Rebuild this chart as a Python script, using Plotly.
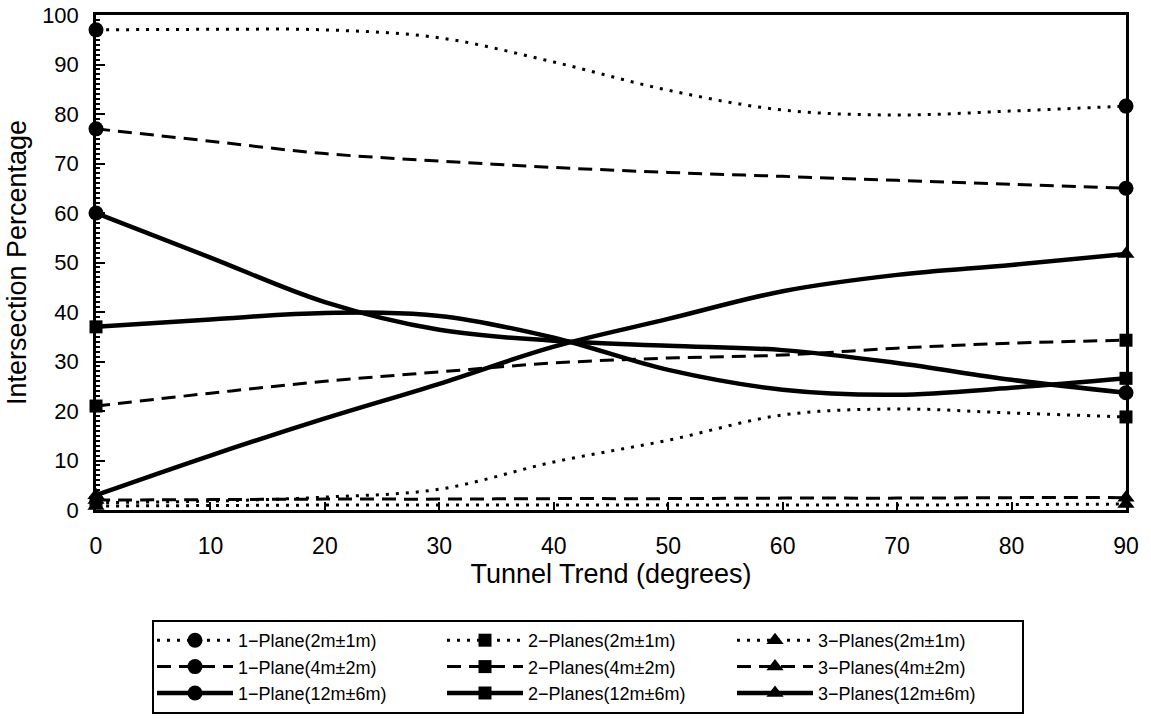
import plotly.graph_objects as go

x_deg = [0, 10, 20, 30, 40, 50, 60, 70, 80, 90]

p1_2m = [97, 97.1, 97, 95.4, 90.5, 84.8, 80.8, 79.8, 80.6, 81.6]
p2_2m = [1.5, 1.8, 2.6, 4.2, 9.7, 14.1, 19.2, 20.4, 19.6, 18.8]
p3_2m = [0.8, 0.9, 1.0, 1.0, 1.0, 1.0, 1.0, 1.0, 1.1, 1.2]
p1_4m = [77, 74.5, 72, 70.5, 69.2, 68.2, 67.4, 66.6, 65.8, 65]
p2_4m = [21, 23.6, 26, 27.9, 29.7, 30.7, 31.3, 32.7, 33.7, 34.3]
p3_4m = [2.0, 2.1, 2.2, 2.2, 2.3, 2.3, 2.4, 2.4, 2.5, 2.5]
p1_12m = [60, 51, 42, 36.4, 34.2, 33.2, 32.3, 29.7, 26.3, 23.7]
p2_12m = [37, 38.5, 39.8, 39.2, 34.8, 28.3, 24.3, 23.3, 24.7, 26.6]
p3_12m = [3, 11, 18.5, 25.5, 33, 38.6, 44.2, 47.5, 49.5, 51.7]

names = [
    "1\u2212Plane(2m\u00b11m)", "2\u2212Planes(2m\u00b11m)", "3\u2212Planes(2m\u00b11m)",
    "1\u2212Plane(4m\u00b12m)", "2\u2212Planes(4m\u00b12m)", "3\u2212Planes(4m\u00b12m)",
    "1\u2212Plane(12m\u00b16m)", "2\u2212Planes(12m\u00b16m)", "3\u2212Planes(12m\u00b16m)",
]
series = [p1_2m, p2_2m, p3_2m, p1_4m, p2_4m, p3_4m, p1_12m, p2_12m, p3_12m]
symbols = ["circle", "square", "triangle-up"] * 3
dashes = ["3px,7px"] * 3 + ["14px,8px"] * 3 + ["solid"] * 3
widths = [3] * 3 + [3] * 3 + [4.5] * 3
msizes = {"circle": 15, "square": 13, "triangle-up": 15}

fig = go.Figure()
for i, (nm, ys) in enumerate(zip(names, series)):
    line = dict(color="black", width=widths[i], dash=dashes[i])
    fig.add_trace(go.Scatter(
        x=x_deg, y=ys, mode="lines", line=dict(line, shape="spline", smoothing=1.0),
        showlegend=False, legendgroup=nm, hoverinfo="skip"))
for i, (nm, ys) in enumerate(zip(names, series)):
    line = dict(color="black", width=widths[i], dash=dashes[i])
    fig.add_trace(go.Scatter(
        x=[x_deg[0], (x_deg[0] + x_deg[-1]) / 2, x_deg[-1]],
        y=[ys[0], None, ys[-1]], mode="lines+markers", name=nm,
        line=line, connectgaps=False, cliponaxis=False, legendgroup=nm,
        marker=dict(symbol=symbols[i], size=msizes[symbols[i]], color="black")))

font_main = "Liberation Sans, Arial, sans-serif"
fig.update_layout(
    width=1151, height=720,
    margin=dict(l=96, r=25, t=15, b=210, autoexpand=False),
    paper_bgcolor="white", plot_bgcolor="white",
    font=dict(family=font_main, color="black"),
    legend=dict(
        orientation="h", xref="container", yref="container",
        x=152 / 1151, xanchor="left", y=1 - 620 / 720, yanchor="top",
        bordercolor="black", borderwidth=2, font=dict(size=18),
        entrywidth=199, entrywidthmode="pixels", itemwidth=76,
        tracegroupgap=0,
    ),
)
fig.update_xaxes(
    range=[0, 90], dtick=10, tick0=0, showgrid=False, zeroline=False,
    showline=True, linecolor="black", linewidth=2.5, mirror=True,
    ticks="inside", ticklen=8, tickwidth=2, tickcolor="black",
    tickfont=dict(size=23), ticklabelstandoff=14, automargin=False,
    title=dict(text="Tunnel Trend (degrees)", font=dict(size=27), standoff=6),
)
fig.update_yaxes(
    range=[0, 100], dtick=10, tick0=0, showgrid=False, zeroline=False,
    showline=True, linecolor="black", linewidth=2.5, mirror=True,
    ticks="inside", ticklen=9, tickwidth=2, tickcolor="black",
    minor=dict(dtick=1, ticks="inside", ticklen=4, tickwidth=1.5, tickcolor="black"),
    tickfont=dict(size=22), ticklabelstandoff=10, automargin=False,
    title=dict(text="Intersection Percentage", font=dict(size=27), standoff=8),
)
fig.write_html("out.html")
